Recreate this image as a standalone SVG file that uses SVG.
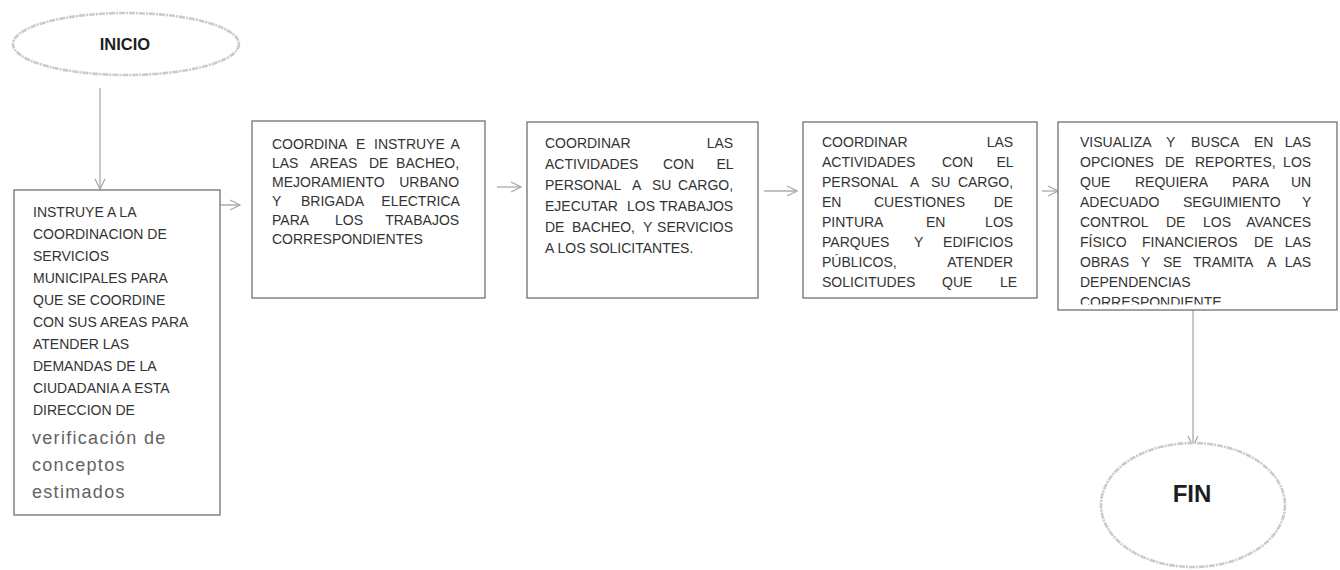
<svg xmlns="http://www.w3.org/2000/svg" width="1340" height="570" viewBox="0 0 1340 570">
<style>
.bg{fill:#ffffff}
.oval{fill:#ffffff;stroke:#cbcbcb;stroke-width:2.6;stroke-dasharray:6 1 2 1}
.box{fill:#ffffff;stroke:#707070;stroke-width:1.3}
.t{font-family:"Liberation Sans",Arial,sans-serif;font-size:14px;fill:#333333}
.lc{font-family:"Liberation Sans",Arial,sans-serif;font-size:18px;fill:#636363;letter-spacing:1.3px}
.title{font-family:"Liberation Sans",Arial,sans-serif;font-weight:bold;fill:#1e1e1e;text-anchor:middle}
.e{text-anchor:end}
.conn{fill:none;stroke:#ababab;stroke-width:1.3}
</style>
<defs>
<marker id="arr" viewBox="0 0 12 12" refX="11" refY="6" markerWidth="12" markerHeight="12" markerUnits="userSpaceOnUse" orient="auto">
<path d="M1,1 L11,6 L1,11" fill="none" stroke="#a8a8a8" stroke-width="1.3"/>
</marker>
<clipPath id="clip5"><rect x="1058" y="122" width="279" height="182.5"/></clipPath>
</defs>
<rect class="bg" x="0" y="0" width="1340" height="570"/>

<g id="connectors">
<line class="conn" x1="100" y1="88" x2="100" y2="189" marker-end="url(#arr)"/>
<line class="conn" x1="204" y1="205" x2="240" y2="205" marker-end="url(#arr)"/>
<line class="conn" x1="497" y1="187" x2="521" y2="187" marker-end="url(#arr)"/>
<line class="conn" x1="764" y1="191" x2="797" y2="191" marker-end="url(#arr)"/>
<line class="conn" x1="1042" y1="191" x2="1058" y2="191" marker-end="url(#arr)"/>
<line class="conn" x1="1193" y1="310" x2="1193" y2="446" marker-end="url(#arr)"/>
</g>

<g id="inicio">
<ellipse class="oval" cx="126" cy="44" rx="113" ry="31"/>
<text class="title" x="125" y="50" font-size="16.5">INICIO</text>
</g>

<g id="paso1">
<rect class="box" x="14" y="190" width="206" height="325"/>
<text class="t">
<tspan x="33" y="217">INSTRUYE A LA</tspan>
<tspan x="33" y="239">COORDINACION DE</tspan>
<tspan x="33" y="261">SERVICIOS</tspan>
<tspan x="33" y="283">MUNICIPALES PARA</tspan>
<tspan x="33" y="305">QUE SE COORDINE</tspan>
<tspan x="33" y="327">CON SUS AREAS PARA</tspan>
<tspan x="33" y="349">ATENDER LAS</tspan>
<tspan x="33" y="371">DEMANDAS DE LA</tspan>
<tspan x="33" y="393">CIUDADANIA A ESTA</tspan>
<tspan x="33" y="415">DIRECCION DE</tspan>
</text>
<text class="lc">
<tspan x="32" y="444">verificación de</tspan>
<tspan x="32" y="471">conceptos</tspan>
<tspan x="32" y="498">estimados</tspan>
</text>
</g>

<g id="paso2">
<rect class="box" x="252" y="121" width="233" height="177"/>
<text class="t">
<tspan x="272" y="149">COORDINA</tspan><tspan x="356" y="149">E</tspan><tspan x="374" y="149">INSTRUYE</tspan><tspan class="e" x="463" y="149">A</tspan>
<tspan x="272" y="168">LAS</tspan><tspan x="310" y="168">AREAS</tspan><tspan x="369" y="168">DE</tspan><tspan class="e" x="463" y="168">BACHEO,</tspan>
<tspan x="272" y="187">MEJORAMIENTO</tspan><tspan class="e" x="463" y="187">URBANO</tspan>
<tspan x="272" y="206">Y</tspan><tspan x="301" y="206">BRIGADA</tspan><tspan class="e" x="463" y="206">ELECTRICA</tspan>
<tspan x="272" y="225">PARA</tspan><tspan x="335" y="225">LOS</tspan><tspan class="e" x="463" y="225">TRABAJOS</tspan>
<tspan x="272" y="244">CORRESPONDIENTES</tspan>
</text>
</g>

<g id="paso3">
<rect class="box" x="527" y="122" width="231" height="176"/>
<text class="t">
<tspan x="545" y="148">COORDINAR</tspan><tspan class="e" x="737" y="148">LAS</tspan>
<tspan x="545" y="169">ACTIVIDADES</tspan><tspan x="663" y="169">CON</tspan><tspan class="e" x="737" y="169">EL</tspan>
<tspan x="545" y="190">PERSONAL</tspan><tspan x="632" y="190">A</tspan><tspan x="652" y="190">SU</tspan><tspan class="e" x="737" y="190">CARGO,</tspan>
<tspan x="545" y="211">EJECUTAR</tspan><tspan x="627" y="211">LOS</tspan><tspan class="e" x="737" y="211">TRABAJOS</tspan>
<tspan x="545" y="232">DE</tspan><tspan x="572" y="232">BACHEO,</tspan><tspan x="643" y="232">Y</tspan><tspan class="e" x="737" y="232">SERVICIOS</tspan>
<tspan x="545" y="253">A LOS SOLICITANTES.</tspan>
</text>
</g>

<g id="paso4">
<rect class="box" x="803" y="122" width="234" height="176"/>
<text class="t">
<tspan x="822" y="147">COORDINAR</tspan><tspan class="e" x="1017" y="147">LAS</tspan>
<tspan x="822" y="167">ACTIVIDADES</tspan><tspan x="942" y="167">CON</tspan><tspan class="e" x="1017" y="167">EL</tspan>
<tspan x="822" y="187">PERSONAL</tspan><tspan x="910" y="187">A</tspan><tspan x="931" y="187">SU</tspan><tspan class="e" x="1017" y="187">CARGO,</tspan>
<tspan x="822" y="207">EN</tspan><tspan x="874" y="207">CUESTIONES</tspan><tspan class="e" x="1017" y="207">DE</tspan>
<tspan x="822" y="227">PINTURA</tspan><tspan x="926" y="227">EN</tspan><tspan class="e" x="1017" y="227">LOS</tspan>
<tspan x="822" y="247">PARQUES</tspan><tspan x="914" y="247">Y</tspan><tspan class="e" x="1017" y="247">EDIFICIOS</tspan>
<tspan x="822" y="267">PÚBLICOS,</tspan><tspan class="e" x="1017" y="267">ATENDER</tspan>
<tspan x="822" y="287">SOLICITUDES</tspan><tspan x="942" y="287">QUE</tspan><tspan class="e" x="1017" y="287">LE</tspan>
</text>
</g>

<g id="paso5">
<rect class="box" x="1058" y="122" width="279" height="188"/>
<text class="t" clip-path="url(#clip5)">
<tspan x="1080" y="147">VISUALIZA</tspan><tspan x="1166" y="147">Y</tspan><tspan x="1191" y="147">BUSCA</tspan><tspan x="1254" y="147">EN</tspan><tspan class="e" x="1315" y="147">LAS</tspan>
<tspan x="1080" y="167">OPCIONES</tspan><tspan x="1165" y="167">DE</tspan><tspan x="1195" y="167">REPORTES,</tspan><tspan class="e" x="1315" y="167">LOS</tspan>
<tspan x="1080" y="187">QUE</tspan><tspan x="1135" y="187">REQUIERA</tspan><tspan x="1232" y="187">PARA</tspan><tspan class="e" x="1315" y="187">UN</tspan>
<tspan x="1080" y="207">ADECUADO</tspan><tspan x="1183" y="207">SEGUIMIENTO</tspan><tspan class="e" x="1315" y="207">Y</tspan>
<tspan x="1080" y="227">CONTROL</tspan><tspan x="1166" y="227">DE</tspan><tspan x="1203" y="227">LOS</tspan><tspan class="e" x="1315" y="227">AVANCES</tspan>
<tspan x="1080" y="247">FÍSICO</tspan><tspan x="1142" y="247">FINANCIEROS</tspan><tspan x="1254" y="247">DE</tspan><tspan class="e" x="1315" y="247">LAS</tspan>
<tspan x="1080" y="267">OBRAS</tspan><tspan x="1141" y="267">Y</tspan><tspan x="1163" y="267">SE</tspan><tspan x="1193" y="267">TRAMITA</tspan><tspan x="1267" y="267">A</tspan><tspan class="e" x="1315" y="267">LAS</tspan>
<tspan x="1080" y="287">DEPENDENCIAS</tspan>
<tspan x="1080" y="307">CORRESPONDIENTE</tspan>
</text>
</g>

<g id="fin">
<ellipse class="oval" cx="1193" cy="505" rx="92" ry="62"/>
<text class="title" x="1192" y="502" font-size="24">FIN</text>
</g>
</svg>
